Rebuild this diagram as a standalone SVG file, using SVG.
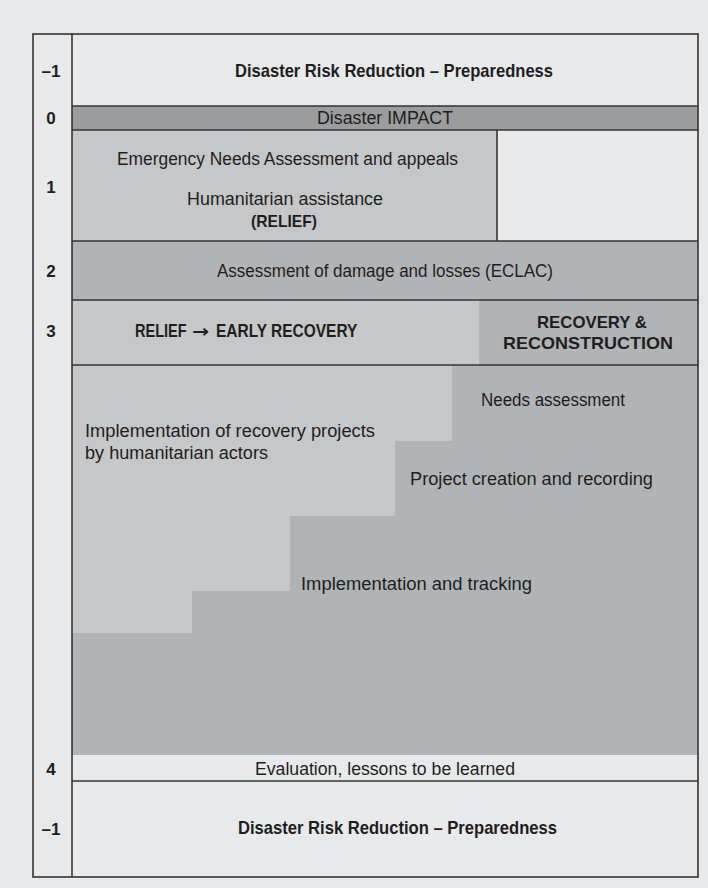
<svg xmlns="http://www.w3.org/2000/svg" width="708" height="888" viewBox="0 0 708 888">
<defs>
<style>
.bg{fill:#e8e9eb}
.light{fill:#c6c7c9}
.mid{fill:#b1b4b6}
.dark{fill:#9b9c9e}
.ln{stroke:#333;stroke-width:1.6;fill:none}
text{font-family:"Liberation Sans",Arial,"DejaVu Sans",sans-serif;fill:#1e1e1e}
.r{font-size:17.5px}
.b{font-size:19px;font-weight:bold}
.n{font-size:17px;font-weight:bold;text-anchor:middle}
.arr{font-family:"DejaVu Sans",sans-serif;font-size:17px;font-weight:bold}
</style>
</defs>
<rect x="0" y="0" width="708" height="888" class="bg"/>

<g id="row-minus1-top">
<rect x="72" y="34" width="626" height="72" class="bg"/>
<text class="n" x="51" y="77">–1</text>
<text class="b" x="235" y="77" textLength="318" lengthAdjust="spacingAndGlyphs">Disaster Risk Reduction – Preparedness</text>
</g>

<g id="row-0">
<rect x="72" y="106" width="626" height="24" class="dark"/>
<text class="n" x="51" y="124">0</text>
<text class="r" x="317" y="124" textLength="136" lengthAdjust="spacingAndGlyphs">Disaster IMPACT</text>
</g>

<g id="row-1">
<rect x="72" y="130" width="425" height="111" class="light"/>
<rect x="497" y="130" width="201" height="111" class="bg"/>
<text class="n" x="51" y="193">1</text>
<text class="r" x="117" y="165" textLength="341" lengthAdjust="spacingAndGlyphs">Emergency Needs Assessment and appeals</text>
<text class="r" x="187" y="205" textLength="196" lengthAdjust="spacingAndGlyphs">Humanitarian assistance</text>
<text class="b" x="251" y="227" textLength="66" lengthAdjust="spacingAndGlyphs" style="font-size:16.5px">(RELIEF)</text>
</g>

<g id="row-2">
<rect x="72" y="241" width="626" height="59" class="mid"/>
<text class="n" x="51" y="277">2</text>
<text class="r" x="217" y="277" textLength="336" lengthAdjust="spacingAndGlyphs">Assessment of damage and losses (ECLAC)</text>
</g>

<g id="row-3">
<rect x="72" y="300" width="407" height="65" class="light"/>
<rect x="479" y="300" width="219" height="65" class="mid"/>
<text class="n" x="51" y="337">3</text>
<text class="b" transform="translate(135,337) scale(0.83,1)" style="font-size:17.5px">RELIEF</text>
<text class="arr" transform="translate(192,337) scale(1.2,1)">→</text>
<text class="b" transform="translate(216,337) scale(0.885,1)" style="font-size:17.5px">EARLY RECOVERY</text>
<text class="b" x="537" y="328" textLength="110" lengthAdjust="spacingAndGlyphs" style="font-size:17px">RECOVERY &amp;</text>
<text class="b" x="503" y="349" textLength="170" lengthAdjust="spacingAndGlyphs" style="font-size:17px">RECONSTRUCTION</text>
</g>

<g id="steps">
<rect x="72" y="365" width="626" height="390" class="mid"/>
<polygon points="72,365 452,365 452,441 395,441 395,516 290,516 290,591 192,591 192,633 72,633" class="light"/>
<text class="r" x="481" y="406" textLength="144" lengthAdjust="spacingAndGlyphs">Needs assessment</text>
<text class="r" x="85" y="437" textLength="290" lengthAdjust="spacingAndGlyphs">Implementation of recovery projects</text>
<text class="r" x="85" y="459" textLength="183" lengthAdjust="spacingAndGlyphs">by humanitarian actors</text>
<text class="r" x="410" y="485" textLength="243" lengthAdjust="spacingAndGlyphs">Project creation and recording</text>
<text class="r" x="301" y="590" textLength="231" lengthAdjust="spacingAndGlyphs">Implementation and tracking</text>
</g>

<g id="row-4">
<rect x="72" y="755" width="626" height="26" class="bg"/>
<text class="n" x="51" y="775">4</text>
<text class="r" x="255" y="775" textLength="260" lengthAdjust="spacingAndGlyphs">Evaluation, lessons to be learned</text>
</g>

<g id="row-minus1-bottom">
<rect x="72" y="781" width="626" height="96" class="bg"/>
<text class="n" x="51" y="835">–1</text>
<text class="b" x="238" y="834" textLength="319" lengthAdjust="spacingAndGlyphs">Disaster Risk Reduction – Preparedness</text>
</g>

<g id="grid-lines">
<rect x="33" y="34" width="665" height="843" class="ln"/>
<line x1="72" y1="34" x2="72" y2="877" class="ln"/>
<line x1="72" y1="106" x2="698" y2="106" class="ln"/>
<line x1="72" y1="130" x2="698" y2="130" class="ln"/>
<line x1="497" y1="130" x2="497" y2="241" class="ln"/>
<line x1="72" y1="241" x2="698" y2="241" class="ln"/>
<line x1="72" y1="300" x2="698" y2="300" class="ln"/>
<line x1="72" y1="365" x2="698" y2="365" class="ln"/>
<line x1="72" y1="781" x2="698" y2="781" class="ln"/>
</g>
</svg>
